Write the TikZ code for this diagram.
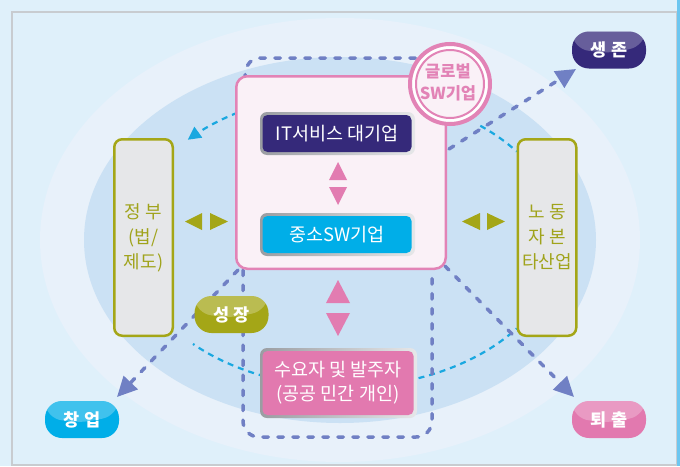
\documentclass[tikz,border=0pt]{standalone}
\usepackage{fontspec}
\setmainfont{Noto Sans CJK KR}
\usetikzlibrary{arrows.meta}
\definecolor{bgc}{HTML}{DFF0FA}
\definecolor{ellout}{HTML}{E8F1FA}
\definecolor{ellin}{HTML}{CBE1F4}
\definecolor{framec}{HTML}{C8CCD0}
\definecolor{edgeblue}{HTML}{6CC6F0}
\definecolor{purp}{HTML}{35297A}
\definecolor{cyanb}{HTML}{00AEE8}
\definecolor{pinkb}{HTML}{E279AF}
\definecolor{pinkline}{HTML}{E283B6}
\definecolor{pinkfill}{HTML}{FAF1F7}
\definecolor{olive}{HTML}{A4A617}
\definecolor{olivetext}{HTML}{A0A31B}
\definecolor{boxgrey}{HTML}{E6E7E9}
\definecolor{dashc}{HTML}{7080C4}
\definecolor{cdashc}{HTML}{1AA8E0}
\definecolor{bevA}{HTML}{9A9DA2}
\definecolor{bevB}{HTML}{E6E7E9}
\definecolor{trip}{HTML}{E27CB1}
\begin{document}
\begin{tikzpicture}[x=1pt,y=-1pt,
  bevel/.style={rectangle, rounded corners=7pt, left color=bevA, right color=bevB, draw=none, inner sep=0pt},
  corebox/.style={rectangle, rounded corners=5pt, draw=none, text=white, inner sep=0pt, font=\fontsize{18.5}{24}\selectfont, align=center},
  pill/.style={rectangle, rounded corners=17pt, minimum width=74pt, minimum height=37pt, text=white, inner sep=0pt,
    font=\bfseries\fontsize{17.5}{17.5}\selectfont,
    path picture={\fill[white,opacity=.25] ([yshift=1pt]path picture bounding box.west) .. controls ([yshift=-3pt]path picture bounding box.center) .. ([yshift=4pt]path picture bounding box.east) -- (path picture bounding box.north east) -- (path picture bounding box.north west) -- cycle;}},
  sidebox/.style={rectangle, rounded corners=8pt, draw=olive, line width=2.5pt, fill=boxgrey, minimum width=58.5pt, minimum height=196.5pt, text=olivetext, font=\fontsize{18}{25}\selectfont, align=center, inner sep=0pt},
  pdash/.style={draw=dashc, line width=3.5pt, dash pattern=on 5.5pt off 9.5pt, line cap=round},
  parrow/.style={pdash, -{Triangle[length=20pt,width=19pt]}},
  cdash/.style={draw=cdashc, line width=2.2pt, dash pattern=on 6pt off 5pt},
]
\useasboundingbox (0,0) rectangle (680,466);
% background
\fill[bgc] (0,0) rectangle (680,466);
\fill[ellout] (340,240) ellipse [x radius=300, y radius=222];
\fill[ellin] (340,240) ellipse [x radius=256, y radius=183];
\draw[framec, line width=1.2pt] (12,12) rectangle (677,465);
\fill[edgeblue] (677,0) rectangle (680,466);

% cyan dashed arcs
\draw[cdash,-{Triangle[length=13pt,width=13pt]}] plot[domain=240:223, samples=20] ({345+215*cos(\x)},{240+147*sin(\x)});
\draw[cdash] plot[domain=-51:-37, samples=15] ({345+215*cos(\x)},{240+147*sin(\x)});
\draw[cdash] plot[domain=112:135, samples=20] ({345+215*cos(\x)},{240+147*sin(\x)});
\draw[cdash] plot[domain=70:37, samples=25] ({345+215*cos(\x)},{240+147*sin(\x)});

% coordinates for purple dashed connectors
\coordinate (tA) at (245,80);
\coordinate (tK) at (246,58);
\coordinate (tB) at (416,58);
\coordinate (sA) at (449,149);
\coordinate (sT) at (576,69);
\coordinate (xA) at (445,266);
\coordinate (xT) at (574,397);
\coordinate (cA) at (238,270);
\coordinate (cT) at (117,397);
\coordinate (uA) at (243,270);
\coordinate (uB) at (243,437);
\coordinate (uC) at (432,437);
\coordinate (uD) at (432,272);

\draw[pdash, rounded corners=14pt] (tA) -- (tK) -- (tB);
\draw[parrow] (sA) -- (sT);
\draw[parrow] (xA) -- (xT);
\draw[parrow] (cA) -- (cT);
\draw[pdash, rounded corners=16pt] (uA) -- (uB) -- (uC) -- (uD);

% central pink box
\node[rectangle, rounded corners=11pt, draw=pinkline, line width=2.5pt, fill=pinkfill, minimum width=209.5pt, minimum height=192.5pt, inner sep=0pt] (core) at (341,172.5) {};

% global circle
\node[circle, draw=pinkline, line width=4pt, fill=white, minimum size=80pt, inner sep=0pt] (glob) at (450,84) {};
\draw[pinkline, line width=2pt, fill=pinkfill] (glob.center) circle (34);
\node[text=pinkline, font=\bfseries\fontsize{16.5}{22}\selectfont, align=center, inner sep=0pt] (globtxt) at (448,82) {글로벌\\SW기업};

% IT / SME boxes
\node[bevel, minimum width=155pt, minimum height=43pt] (itb) at (337.5,133.5) {};
\node[corebox, fill=purp, minimum width=149pt, minimum height=37pt] (it) at (337,133.5) {IT서비스 대기업};
\node[bevel, minimum width=155pt, minimum height=43pt] (smeb) at (337.5,234.5) {};
\node[corebox, fill=cyanb, minimum width=149pt, minimum height=37pt] (sme) at (337,234.5) {중소SW기업};

% demand box
\node[bevel, minimum width=157pt, minimum height=70pt] (demb) at (338.5,383) {};
\node[corebox, fill=pinkb, minimum width=151pt, minimum height=64pt] (dem) at (338,383) {수요자 및 발주자\\(공공 민간 개인)};

% pink triangles
\fill[trip] (338,162) -- (347,180) -- (329,180) -- cycle;
\fill[trip] (338,205) -- (347,187) -- (329,187) -- cycle;
\fill[trip] (338,280) -- (350,303) -- (326,303) -- cycle;
\fill[trip] (338,336) -- (350,313) -- (326,313) -- cycle;

% side boxes
\node[sidebox] (gov) at (143.5,237.5) {정 부\\(법/\\제도)};
\node[sidebox] (lab) at (547,237.5) {노 동\\자 본\\타산업};

% olive double triangles
\fill[olive] (185,221.5) -- (202,213) -- (202,230) -- cycle;
\fill[olive] (228,221.5) -- (210,213) -- (210,230) -- cycle;
\fill[olive] (462,221.5) -- (480,213) -- (480,230) -- cycle;
\fill[olive] (505,221.5) -- (487,213) -- (487,230) -- cycle;

% pills
\node[pill, fill=purp] (saengjon) at (609,50) {생 존};
\node[pill, fill=cyanb] (changup) at (82,419.5) {창 업};
\node[pill, fill=pinkb] (toechul) at (609,419.5) {퇴 출};
\node[pill, fill=olive] (seongjang) at (231.5,314.5) {성 장};
\end{tikzpicture}
\end{document}
